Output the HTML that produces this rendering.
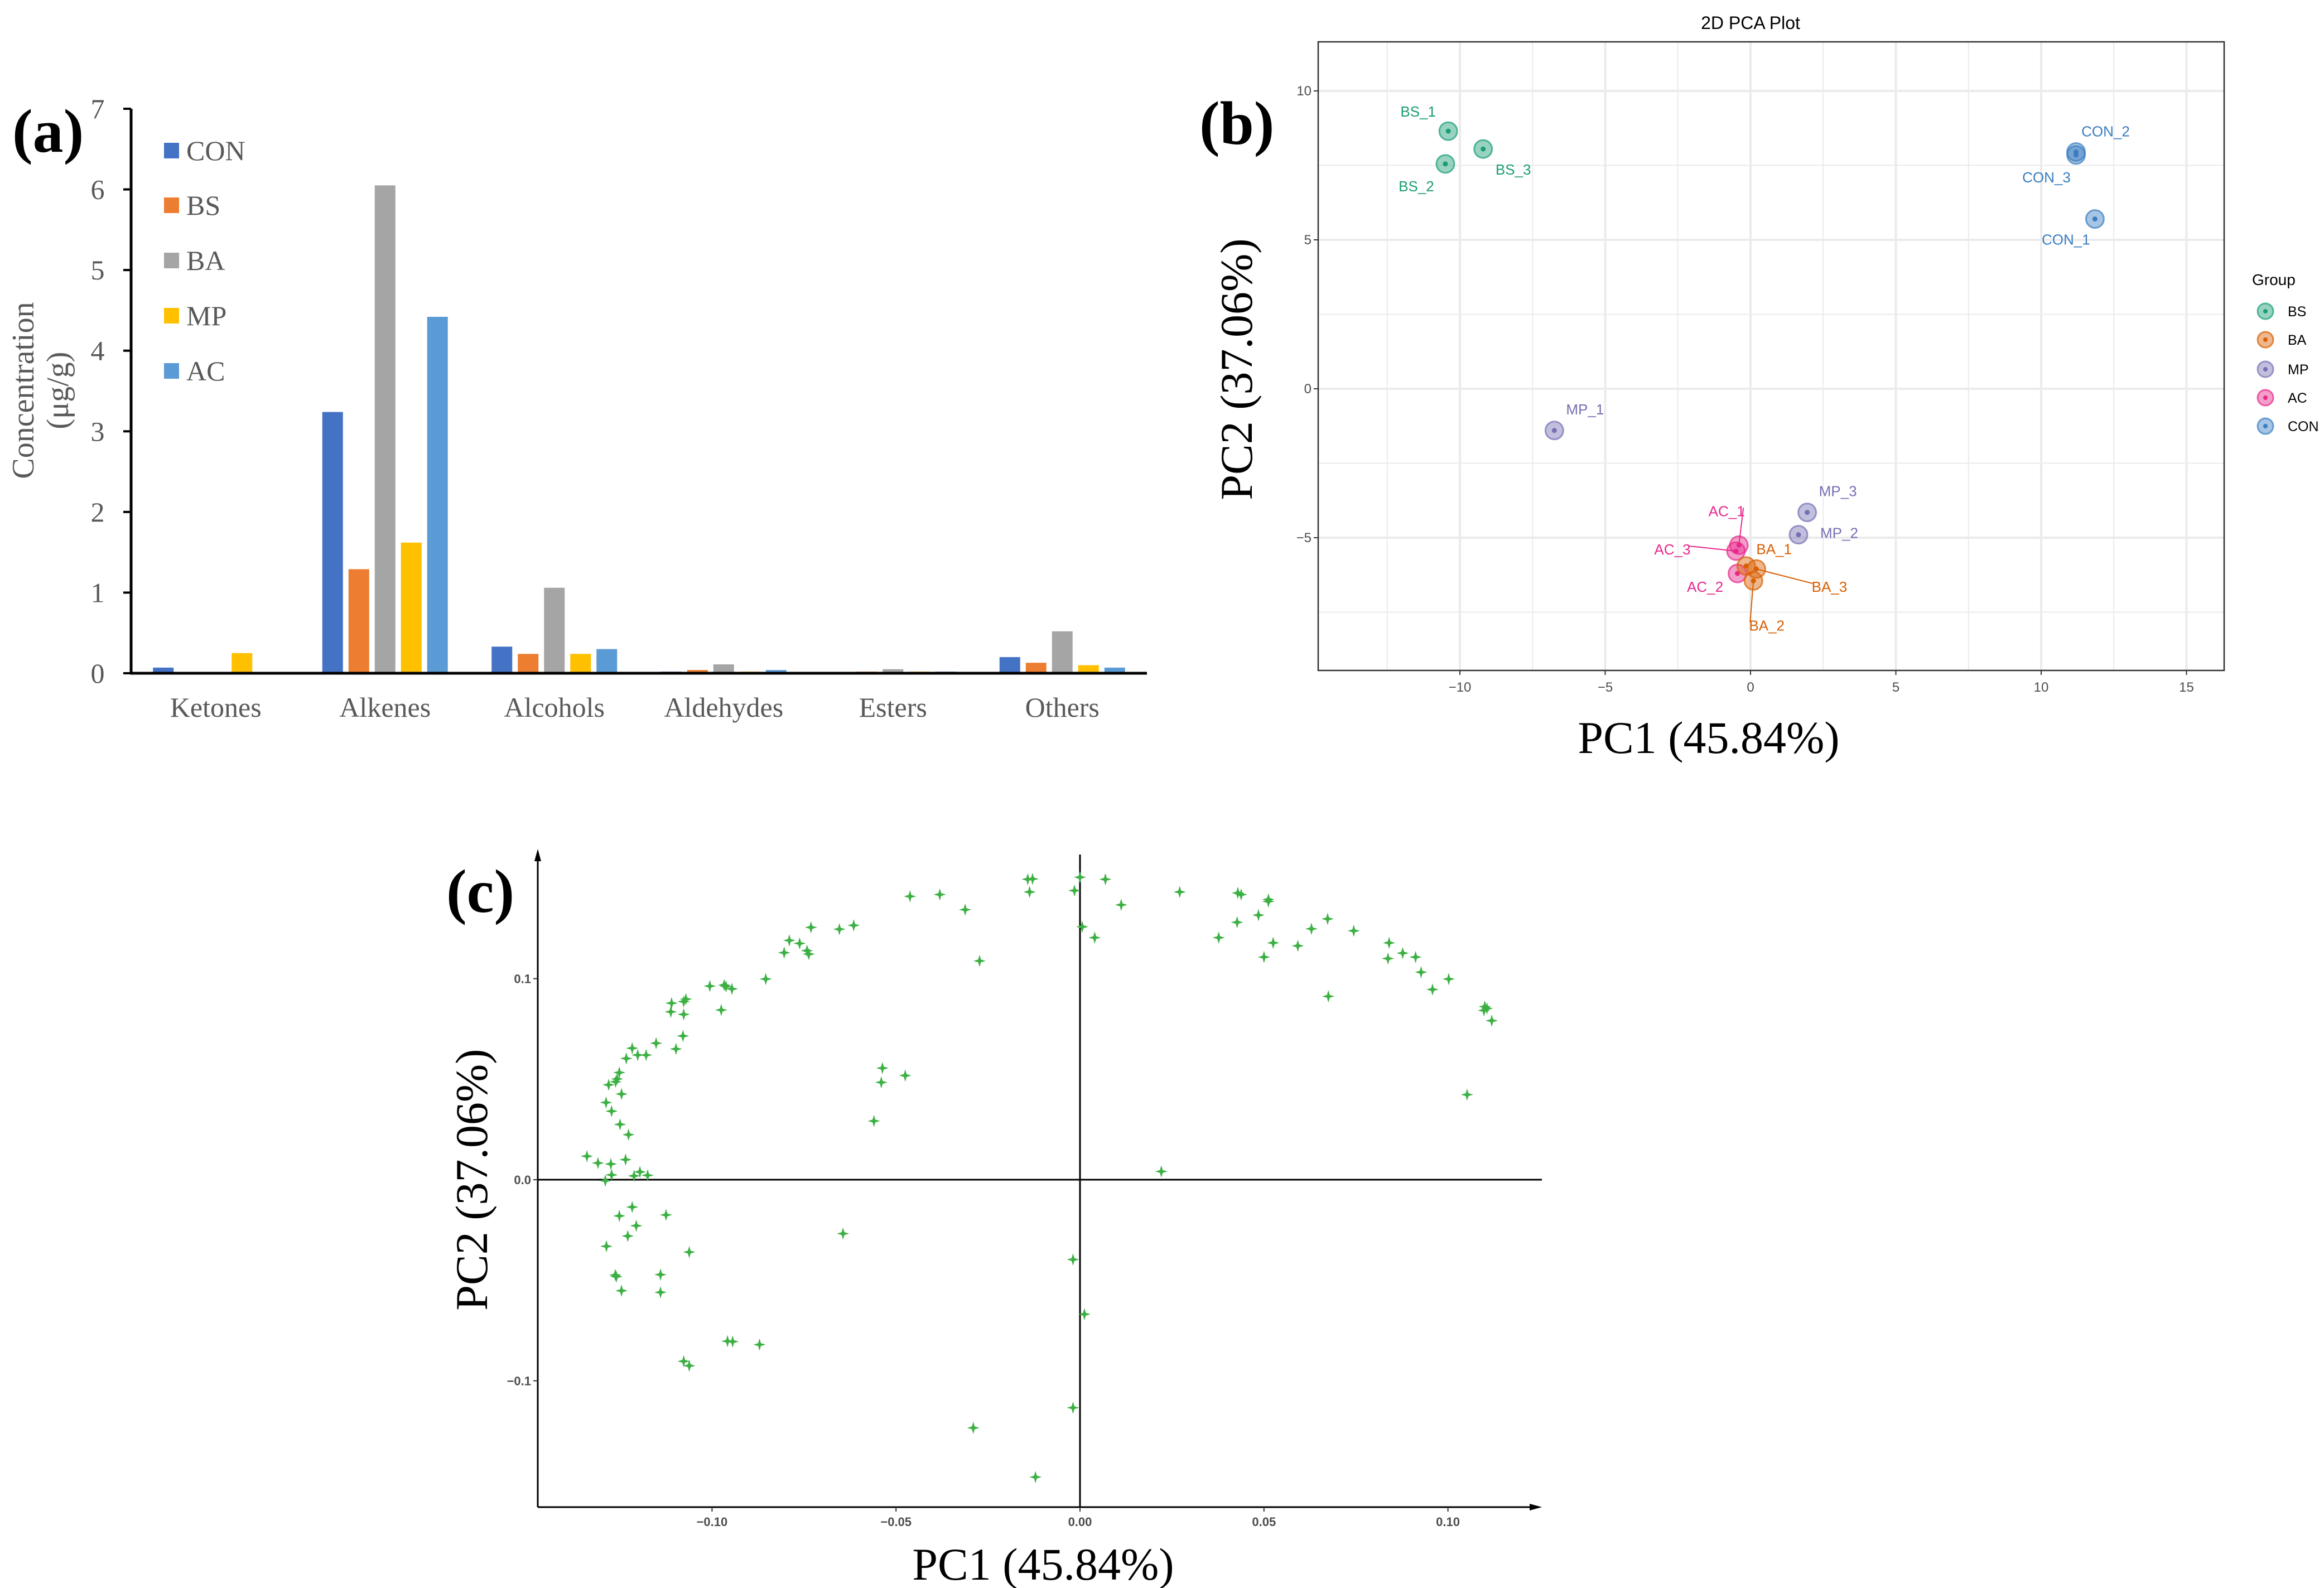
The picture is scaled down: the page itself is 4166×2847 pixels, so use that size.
<!DOCTYPE html>
<html><head><meta charset="utf-8"><style>
html,body{margin:0;padding:0;background:#fff}
svg{display:block}
.serif{font-family:"Liberation Serif",serif}
.sans{font-family:"Liberation Sans",sans-serif}
</style></head><body>
<svg id="fig" width="4166" height="2847" viewBox="0 0 4166 2847" xmlns="http://www.w3.org/2000/svg">
<g id="pa"></g>
<g id="pb"></g>
<g id="pc"></g>
</svg>
<script>
// ---------- Panel (a) data ----------
const catsA = ["Ketones","Alkenes","Alcohols","Aldehydes","Esters","Others"];
const seriesNamesA = ["CON","BS","BA","MP","AC"];
const valCON = [0.07,3.24,0.33,0.02,0.00,0.20];
const valBS  = [0.00,1.29,0.24,0.04,0.02,0.13];
const valBA  = [0.00,6.05,1.06,0.11,0.05,0.52];
const valMP  = [0.25,1.62,0.24,0.02,0.02,0.10];
const valAC  = [0.00,4.42,0.30,0.04,0.02,0.07];
const yTicksA = [0,1,2,3,4,5,6,7];

// ---------- Panel (b) data ----------
const ptNamesB = ["BS_1","BS_3","BS_2","CON_2","CON_3","CON_1","MP_1","MP_3","MP_2","AC_1","AC_3","AC_2","BA_1","BA_3","BA_2"];
const ptGroupB = ["BS","BS","BS","CON","CON","CON","MP","MP","MP","AC","AC","AC","BA","BA","BA"];
const pc1B = [-10.4,-9.2,-10.5,11.2,11.2,11.85,-6.75,1.95,1.65,-0.4,-0.5,-0.45,-0.15,0.2,0.1];
const pc2B = [8.65,8.05,7.55,7.95,7.85,5.7,-1.4,-4.15,-4.9,-5.25,-5.45,-6.2,-5.95,-6.05,-6.45];
const groupsB = ["BS","BA","MP","AC","CON"];
const xTicksB = [-10,-5,0,5,10,15];
const yTicksB = [-5,0,5,10];

// ---------- Panel (c) data ----------
const pc1C = [-0.0142,-0.0129,-0.0137,0,-0.0015,0.0069,0.0271,0.0429,0.0438,0.0512,0.0512,0.0485,0.0427,0.0112,0.0006,0.0040,-0.0462,-0.0381,-0.0312,-0.0273,-0.0731,-0.0654,-0.0615,-0.0790,-0.0762,-0.0804,-0.0742,-0.0737,-0.0854,-0.1006,-0.0967,-0.0962,-0.0946,-0.0975,-0.1110,-0.1071,-0.1077,-0.1112,-0.1077,-0.1079,-0.1152,-0.1098,-0.1217,-0.1202,-0.1179,-0.1233,-0.1252,-0.1258,-0.1262,-0.1281,-0.1246,-0.1288,-0.1273,-0.125,-0.1227,0.0673,0.0629,0.0592,0.0525,0.05,0.0377,0.0744,0.084,0.0837,0.0877,0.0912,0.0927,0.1002,0.0958,0.0675,0.11,0.1098,0.1106,0.1119,0.1052,
-0.0537,-0.0540,-0.0475,-0.056,0.0221,
-0.134,-0.131,-0.1275,-0.1235,-0.1273,-0.129,-0.1212,-0.1196,-0.1175,
-0.1217,-0.1252,-0.1206,-0.1229,-0.1125,-0.1287,-0.1062,-0.1263,-0.126,-0.1246,-0.114,-0.114,-0.0644,-0.0019,0.0012,-0.0958,-0.0944,-0.0871,-0.1077,-0.1062,-0.0019,-0.029,-0.0121];
const pc2C = [0.1494,0.1496,0.1431,0.1504,0.1438,0.1494,0.1431,0.1426,0.1418,0.1394,0.1384,0.1316,0.128,0.1367,0.1258,0.1204,0.1409,0.1418,0.1343,0.1088,0.1255,0.1246,0.1265,0.119,0.1175,0.1129,0.1139,0.1122,0.0998,0.0963,0.0968,0.0961,0.0949,0.0844,0.0878,0.0898,0.0886,0.0835,0.0822,0.0715,0.0679,0.065,0.0654,0.062,0.062,0.0603,0.0533,0.0501,0.0487,0.0472,0.0426,0.0384,0.0341,0.0275,0.0224,0.1297,0.1248,0.1163,0.1178,0.1107,0.1204,0.1238,0.1178,0.11,0.1127,0.1107,0.1032,0.0998,0.0946,0.0912,0.0861,0.0842,0.0852,0.0791,0.0423,
0.0555,0.0484,0.0518,0.0292,0.0041,
0.0117,0.0083,0.0078,0.01,0.0024,-0.0005,0.0019,0.0039,0.0022,
-0.0136,-0.018,-0.0229,-0.028,-0.0175,-0.0331,-0.036,-0.0474,-0.0482,-0.0552,-0.0472,-0.056,-0.0268,-0.0397,-0.0669,-0.0803,-0.0805,-0.082,-0.0903,-0.0925,-0.1134,-0.1234,-0.1479];
const xTicksC = [-0.10,-0.05,0.00,0.05,0.10];
const xTickLabelsC = ["\u22120.10","\u22120.05","0.00","0.05","0.10"];
const yTicksC = [-0.1,0.0,0.1];
const yTickLabelsC = ["\u22120.1","0.0","0.1"];

const NS = "http://www.w3.org/2000/svg";
function mk(parent, tag, attrs, text){
  const e = document.createElementNS(NS, tag);
  for (const k in attrs) e.setAttribute(k, attrs[k]);
  if (text !== undefined) e.textContent = text;
  parent.appendChild(e);
  return e;
}

// ================= Panel A =================
(function(){
  const g = document.getElementById('pa');
  const X0 = 235, X1 = 2056, Y0 = 1207, Y7 = 195;
  const yS = v => Y0 - (Y0 - Y7) * v / 7;
  const catW = (X1 - X0) / catsA.length;
  const cx = i => X0 + catW * (i + 0.5);
  const colors = ["#4472c4","#ed7d31","#a5a5a5","#ffc000","#5b9bd5"];
  const series = [valCON, valBS, valBA, valMP, valAC];
  const step = 47, bw = 37;
  series.forEach((vals, s) => {
    vals.forEach((v, i) => {
      const x = cx(i) + (s - 2) * step - bw / 2;
      const r = mk(g, 'rect', {x: x, y: yS(v), width: bw, height: Y0 - yS(v), fill: colors[s]});
      
      
    });
  });
  const ya = mk(g, 'line', {x1: X0, y1: Y7, x2: X0, y2: Y0, stroke: '#000', 'stroke-width': 5});
  
  
  const xa = mk(g, 'line', {x1: X0 - 2, y1: Y0, x2: X1, y2: Y0, stroke: '#000', 'stroke-width': 5});
  
  
  yTicksA.forEach(t => {
    mk(g, 'line', {x1: X0 - 14, y1: yS(t), x2: X0, y2: yS(t), stroke: '#000', 'stroke-width': 4});
    const tl = mk(g, 'text', {x: X0 - 60, y: yS(t) + 17, 'text-anchor': 'middle', class: 'serif', 'font-size': 50, fill: '#595959'}, String(t));
    
    
  });
  catsA.forEach((c, i) => {
    const t = mk(g, 'text', {x: cx(i), y: 1285, 'text-anchor': 'middle', class: 'serif', 'font-size': 50, fill: '#595959'}, c);
    
    
  });
  const legY = [270, 368, 467, 566, 665];
  seriesNamesA.forEach((n, s) => {
    const lg = mk(g, 'g', {});
    
    
    mk(lg, 'rect', {x: 294, y: legY[s] - 14, width: 27, height: 28, fill: colors[s]});
    mk(lg, 'text', {x: 334, y: legY[s] + 17, class: 'serif', 'font-size': 50, fill: '#595959'}, n);
  });
  const t1 = mk(g, 'text', {x: 0, y: 0, transform: 'translate(60,700) rotate(-90)', 'text-anchor': 'middle', class: 'serif', 'font-size': 56, fill: '#595959'}, 'Concentration');
  
  
  const t2 = mk(g, 'text', {x: 0, y: 0, transform: 'translate(122,700) rotate(-90)', 'text-anchor': 'middle', class: 'serif', 'font-size': 56, fill: '#595959'}, '(\u03bcg/g)');
  
  
  const pl = mk(g, 'text', {x: 22, y: 272, class: 'serif', 'font-size': 110, 'font-weight': 'bold', fill: '#000'}, '(a)');
  
  
})();

// ================= Panel B =================
(function(){
  const g = document.getElementById('pb');
  const BX0 = 2363, BX1 = 3987, BY0 = 75, BY1 = 1202;
  const xS = v => 3138 + 52.1 * v;
  const yS = v => 697 - 53.4 * v;
  mk(g, 'rect', {x: BX0, y: BY0, width: BX1 - BX0, height: BY1 - BY0, fill: '#fff'});
  for (let v = -12.5; v <= 15.01; v += 2.5) {
    const major = Math.abs(v % 5) < 0.01;
    mk(g, 'line', {x1: xS(v), y1: BY0, x2: xS(v), y2: BY1, stroke: '#ebebeb', 'stroke-width': major ? 4 : 2});
  }
  for (let v = -7.5; v <= 10.01; v += 2.5) {
    const major = Math.abs(v % 5) < 0.01;
    mk(g, 'line', {x1: BX0, y1: yS(v), x2: BX1, y2: yS(v), stroke: '#ebebeb', 'stroke-width': major ? 4 : 2});
  }
  const fr = mk(g, 'rect', {x: BX0, y: BY0, width: BX1 - BX0, height: BY1 - BY0, fill: 'none', stroke: '#333', 'stroke-width': 2.5});
  
  
  xTicksB.forEach(t => {
    mk(g, 'line', {x1: xS(t), y1: BY1, x2: xS(t), y2: BY1 + 8, stroke: '#333', 'stroke-width': 2});
    const tl = mk(g, 'text', {x: xS(t), y: 1240, 'text-anchor': 'middle', class: 'sans', 'font-size': 24, fill: '#4d4d4d'}, (t < 0 ? '\u2212' + (-t) : String(t)));
    
    
  });
  yTicksB.forEach(t => {
    mk(g, 'line', {x1: BX0 - 8, y1: yS(t), x2: BX0, y2: yS(t), stroke: '#333', 'stroke-width': 2});
    const tl = mk(g, 'text', {x: BX0 - 12, y: yS(t) + 8, 'text-anchor': 'end', class: 'sans', 'font-size': 24, fill: '#4d4d4d'}, (t < 0 ? '\u2212' + (-t) : String(t)));
    
    
  });
  const gc = {BS: '#1b9e77', BA: '#d95f02', MP: '#7570b3', AC: '#e7298a', CON: '#3a7dc0'};
  const lblOff = [[-54,-35],[54,37],[-52,40],[53,-37],[-53,40],[-52,37],[55,-38],[55,-38],[73,-3],[-22,-61],[-114,-3],[-58,24],[50,-30],[131,32],[24,80]];
  const lead = [false,false,false,false,false,false,false,false,false,true,true,false,false,true,true];
  pc1B.forEach((x, i) => {
    const c = gc[ptGroupB[i]];
    const px = xS(x), py = yS(pc2B[i]);
    const lx = px + lblOff[i][0], ly = py + lblOff[i][1];
    if (lead[i]) mk(g, 'line', {x1: px, y1: py, x2: lx - Math.sign(lblOff[i][0]) * 30, y2: ly - 6, stroke: c, 'stroke-width': 2});
    const pg = mk(g, 'g', {});
    
    
    mk(pg, 'circle', {cx: px, cy: py, r: 16, fill: c, 'fill-opacity': 0.45, stroke: c, 'stroke-opacity': 0.7, 'stroke-width': 3});
    mk(pg, 'circle', {cx: px, cy: py, r: 4.5, fill: c});
    const tl = mk(g, 'text', {x: lx, y: ly + 9, 'text-anchor': 'middle', class: 'sans', 'font-size': 26, fill: c}, ptNamesB[i]);
    
    
  });
  const ti = mk(g, 'text', {x: 3138, y: 52, 'text-anchor': 'middle', class: 'sans', 'font-size': 32, fill: '#000'}, '2D PCA Plot');
  
  
  const xt = mk(g, 'text', {x: 3063, y: 1350, 'text-anchor': 'middle', class: 'serif', 'font-size': 82, fill: '#000'}, 'PC1 (45.84%)');
  
  
  const yt = mk(g, 'text', {x: 0, y: 0, transform: 'translate(2244,662) rotate(-90)', 'text-anchor': 'middle', class: 'serif', 'font-size': 82, fill: '#000'}, 'PC2 (37.06%)');
  
  
  const pl = mk(g, 'text', {x: 2150, y: 258, class: 'serif', 'font-size': 110, 'font-weight': 'bold', fill: '#000'}, '(b)');
  
  
  const lgT = mk(g, 'text', {x: 4037, y: 511, class: 'sans', 'font-size': 28, fill: '#000'}, 'Group');
  
  
  const ly = [558, 609, 662, 713, 764];
  groupsB.forEach((n, i) => {
    const c = gc[n];
    const lg = mk(g, 'g', {});
    
    
    mk(lg, 'circle', {cx: 4061, cy: ly[i], r: 14, fill: c, 'fill-opacity': 0.45, stroke: c, 'stroke-opacity': 0.7, 'stroke-width': 3});
    mk(lg, 'circle', {cx: 4061, cy: ly[i], r: 4, fill: c});
    mk(lg, 'text', {x: 4101, y: ly[i] + 9, class: 'sans', 'font-size': 25, fill: '#000'}, n);
  });
})();

// ================= Panel C =================
(function(){
  const g = document.getElementById('pc');
  const xS = v => 1936 + 6596 * v;
  const yS = v => 2115 - 3605 * v;
  const AX = 964, AY = 2702, TOP = 1522, RIGHT = 2764;
  mk(g, 'line', {x1: AX, y1: AY, x2: AX, y2: TOP + 10, stroke: '#000', 'stroke-width': 3});
  mk(g, 'polygon', {points: `${AX},${TOP} ${AX-6},${TOP+22} ${AX+6},${TOP+22}`, fill: '#000'});
  mk(g, 'line', {x1: AX, y1: AY, x2: RIGHT - 10, y2: AY, stroke: '#000', 'stroke-width': 3});
  mk(g, 'polygon', {points: `${RIGHT},${AY} ${RIGHT-22},${AY-6} ${RIGHT-22},${AY+6}`, fill: '#000'});
  const zx = mk(g, 'line', {x1: AX, y1: yS(0), x2: RIGHT, y2: yS(0), stroke: '#000', 'stroke-width': 3});
  
  
  const zy = mk(g, 'line', {x1: xS(0), y1: TOP + 10, x2: xS(0), y2: AY, stroke: '#000', 'stroke-width': 3});
  
  
  xTicksC.forEach((t, i) => {
    mk(g, 'line', {x1: xS(t), y1: AY, x2: xS(t), y2: AY + 8, stroke: '#333', 'stroke-width': 2});
    const tl = mk(g, 'text', {x: xS(t), y: AY + 34, 'text-anchor': 'middle', class: 'sans', 'font-size': 22, 'font-weight': 'bold', fill: '#4d4d4d'}, xTickLabelsC[i]);
    
    
  });
  yTicksC.forEach((t, i) => {
    mk(g, 'line', {x1: AX - 8, y1: yS(t), x2: AX, y2: yS(t), stroke: '#333', 'stroke-width': 2});
    const tl = mk(g, 'text', {x: AX - 12, y: yS(t) + 8, 'text-anchor': 'end', class: 'sans', 'font-size': 22, 'font-weight': 'bold', fill: '#4d4d4d'}, yTickLabelsC[i]);
    
    
  });
  pc1C.forEach((x, i) => {
    const px = xS(x), py = yS(pc2C[i]);
    const s = 11, w = 2.5;
    const p = mk(g, 'path', {d: `M${px},${py-s} L${px+w},${py-w} L${px+s},${py} L${px+w},${py+w} L${px},${py+s} L${px-w},${py+w} L${px-s},${py} L${px-w},${py-w} Z`, fill: '#3cb043'});
    
    
  });
  const xt = mk(g, 'text', {x: 1870, y: 2832, 'text-anchor': 'middle', class: 'serif', 'font-size': 82, fill: '#000'}, 'PC1 (45.84%)');
  
  
  const yt = mk(g, 'text', {x: 0, y: 0, transform: 'translate(873,2115) rotate(-90)', 'text-anchor': 'middle', class: 'serif', 'font-size': 82, fill: '#000'}, 'PC2 (37.06%)');
  
  
  const pl = mk(g, 'text', {x: 800, y: 1635, class: 'serif', 'font-size': 110, 'font-weight': 'bold', fill: '#000'}, '(c)');
  
  
})();
</script>
</body></html>
